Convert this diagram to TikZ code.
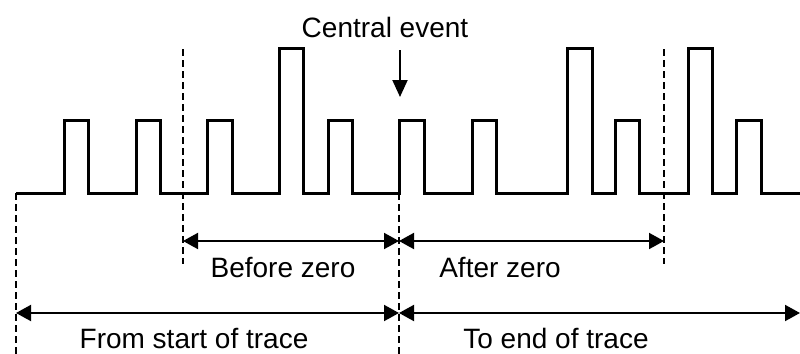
\documentclass[tikz,border=0pt]{standalone}
\usepackage{fontspec}
\setmainfont{Liberation Sans}
\usetikzlibrary{arrows.meta}
\tikzset{
    trace/.style = {line width=1.5pt, line join=miter},
    marker/.style = {dash pattern=on 3.5pt off 2pt, line width=1.2pt},
    span/.style = {{Triangle[length=7.5pt, width=8pt]}-{Triangle[length=7.5pt, width=8pt]}, line width=1pt},
    pointer/.style = {-{Triangle[length=8.5pt, width=7.5pt]}, line width=1pt},
    lbl/.style = {anchor=base, inner sep=0pt, font=\fontsize{14}{16}\selectfont}
}

\begin{document}
\begin{tikzpicture}[x=0.5pt, y=-0.5pt]
\useasboundingbox (0,0) rectangle (800,354);

% Marker positions
\coordinate (start top) at (16,193);
\coordinate (start bot) at (16,354);
\coordinate (pre top) at (183,49);
\coordinate (pre bot) at (183,264);
\coordinate (zero top) at (399,193);
\coordinate (zero bot) at (399,354);
\coordinate (post top) at (664,49);
\coordinate (post bot) at (664,264);

% Spike train
\draw[trace] (start top) -| (64,120) -| (88,193) -| (136,120) -| (160,193)
    -| (207,120) -| (232,193) -| (279,48) -| (303,193) -| (328,120) -| (352,193)
    -| (399,120) -| (424,193) -| (472,120) -| (496,193) -| (567,48) -| (592,193)
    -| (615,120) -| (639,193) -| (688,48) -| (712,193) -| (736,120) -| (761,193)
    -- (800,193);

% Dashed markers
\draw[marker] (start top) -- (start bot);
\draw[marker] (pre top) -- (pre bot);
\draw[marker] (zero top) -- (zero bot);
\draw[marker] (post top) -- (post bot);

% Central event
\node[lbl] (central) at (385,37) {Central event};
\coordinate (ev tail) at (400,50);
\coordinate (ev tip) at (400,97);
\draw[pointer] (ev tail) -- (ev tip);

% Windows
\coordinate (before l) at (183,241);
\coordinate (before r) at (399,241);
\coordinate (after r) at (664,241);
\coordinate (from l) at (16,313);
\coordinate (from r) at (399,313);
\coordinate (to r) at (800,313);

\draw[span] (before l) -- (before r);
\draw[span] (before r) -- (after r);
\draw[span] (from l) -- (from r);
\draw[span] (from r) -- (to r);

\node[lbl] (before) at (283,277) {Before zero};
\node[lbl] (after) at (500,277) {After zero};
\node[lbl] (from) at (194,348) {From start of trace};
\node[lbl] (to) at (556,348) {To end of trace};
\end{tikzpicture}
\end{document}
